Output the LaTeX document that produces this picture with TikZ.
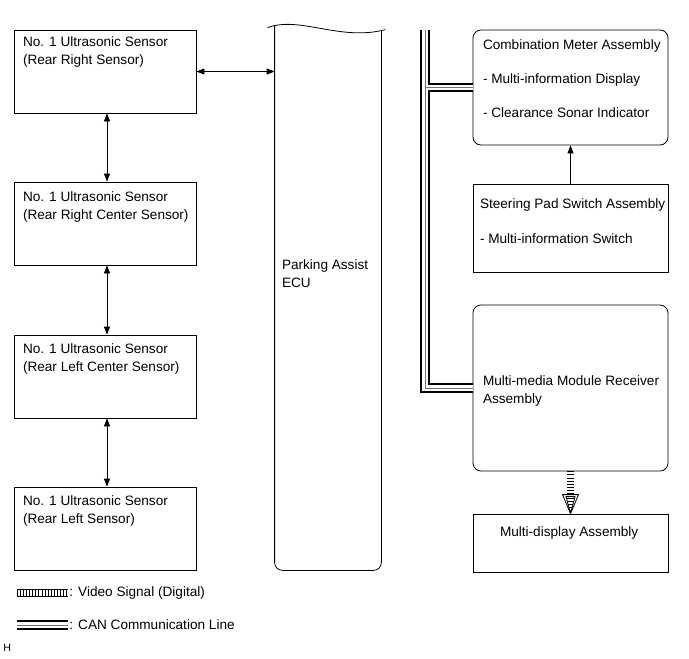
\documentclass[tikz,border=0pt]{standalone}
\usepackage{fontspec}
\setmainfont{Liberation Sans}
\usetikzlibrary{arrows.meta, positioning}

\begin{document}
\begin{tikzpicture}[x=0.75pt, y=-0.75pt, line width=0.6pt,
    font=\fontsize{10.2}{13.5}\selectfont,
    >={Triangle[length=6pt, width=4.5pt]},
    box/.style={draw, inner sep=0pt, minimum width=136.5pt},
    sensor/.style={box, minimum height=62.25pt},
    unit/.style={box, minimum width=146.25pt},
    txt/.style={inner sep=0pt, anchor=north west, align=left},
    can/.style={line width=7pt, postaction={draw=white, line width=4.2pt}, postaction={draw=black!55, line width=0.7pt}},
    video/.style={double, double distance=4.6pt, line width=0.5pt, postaction={draw, line width=4.6pt, dash pattern=on 0.45pt off 1.85pt}}]

    \useasboundingbox (0,0) rectangle (689,658);

    % sensors
    \node[sensor] (s1) at (105,71.5) {};
    \node[sensor] (s2) at (105,223.5) {};
    \node[sensor] (s3) at (105,376.5) {};
    \node[sensor] (s4) at (105,528.5) {};
    \node[txt] (s1t) at ([shift={(9,7)}]s1.north west) {No. 1 Ultrasonic Sensor\\(Rear Right Sensor)};
    \node[txt] (s2t) at ([shift={(9,10)}]s2.north west) {No. 1 Ultrasonic Sensor\\(Rear Right Center Sensor)};
    \node[txt] (s3t) at ([shift={(9,9)}]s3.north west) {No. 1 Ultrasonic Sensor\\(Rear Left Center Sensor)};
    \node[txt] (s4t) at ([shift={(9,9)}]s4.north west) {No. 1 Ultrasonic Sensor\\(Rear Left Sensor)};

    \draw[<->] ([xshift=1.5pt]s1.south) -- ([xshift=1.5pt]s2.north);
    \draw[<->] ([xshift=1.5pt]s2.south) -- ([xshift=1.5pt]s3.north);
    \draw[<->] ([xshift=1.5pt]s3.south) -- ([xshift=1.5pt]s4.north);

    % ECU
    \node[inner sep=0pt, minimum width=79.5pt, minimum height=405pt] (ecu) at (328,300) {};
    \draw[rounded corners=6pt] ([shift={(0,-4)}]ecu.north west) -- (ecu.south west) -- (ecu.south east) -- ([shift={(0,1)}]ecu.north east);
    \draw ([shift={(-7,-2)}]ecu.north west) .. controls +(32,-12) and +(-45,12) .. ([shift={(4,0)}]ecu.north east);
    \node[txt] (ecut) at ([shift={(7,-41)}]ecu.west) {Parking Assist\\ECU};

    \draw[<->] (s1.east) -- (s1.east -| ecu.west);

    % right side units
    \node[unit, rounded corners=6pt, minimum height=86.25pt] (cm) at (570.5,87.5) {};
    \node[unit, minimum height=66pt] (sp) at (570.5,228) {};
    \node[unit, rounded corners=6pt, minimum height=124.5pt] (mm) at (570.5,388) {};
    \node[unit, minimum height=43.5pt] (md) at (570.5,543) {};

    \node[txt] (cmt) at ([shift={(10,10)}]cm.north west) {Combination Meter Assembly\\[12pt]- Multi-information Display\\[12pt]- Clearance Sonar Indicator};
    \node[txt] (spt) at ([shift={(7,15)}]sp.north west) {Steering Pad Switch Assembly\\[12.75pt]- Multi-information Switch};
    \node[txt] (mmt) at ([shift={(10,71)}]mm.north west) {Multi-media Module Receiver\\Assembly};
    \node[txt] (mdt) at ([shift={(27,13)}]md.north west) {Multi-display Assembly};

    \draw[->] (sp.north) -- (cm.south);

    % CAN bus
    \coordinate (bustop) at (425,30);
    \draw[can] (bustop) -- (bustop |- mm.west) -- (mm.west) (bustop |- cm.west) -- (cm.west);

    % video signal
    \draw[video] (mm.south) -- ([shift={(0,-19)}]md.north);
    \draw[fill=white] (md.north) -- ([shift={(-8,-19)}]md.north) -- ([shift={(8,-19)}]md.north) -- cycle;
    \draw (md.north) -- ([shift={(-4.5,-17)}]md.north) -- ([shift={(4.5,-17)}]md.north) -- cycle;
    \begin{scope}
        \clip (md.north) -- ([shift={(-4.5,-17)}]md.north) -- ([shift={(4.5,-17)}]md.north) -- cycle;
        \foreach \k in {1,...,5}
            \draw[line width=0.45pt] ([shift={(-6,-3*\k)}]md.north) -- ++(12,0);
    \end{scope}

    % legend
    \node[anchor=west, inner sep=0pt] (vidkey) at (69,593) {: Video Signal (Digital)};
    \draw[video] ([xshift=-39pt]vidkey.west) -- ([xshift=-1pt]vidkey.west);
    \node[anchor=west, inner sep=0pt] (cankey) at (69,625) {: CAN Communication Line};
    \draw[can] ([xshift=-39pt]cankey.west) -- ([xshift=-1pt]cankey.west);
    \node[anchor=west, inner sep=0pt, font=\fontsize{8}{10}\selectfont] (hmark) at (3,648) {H};
\end{tikzpicture}
\end{document}
